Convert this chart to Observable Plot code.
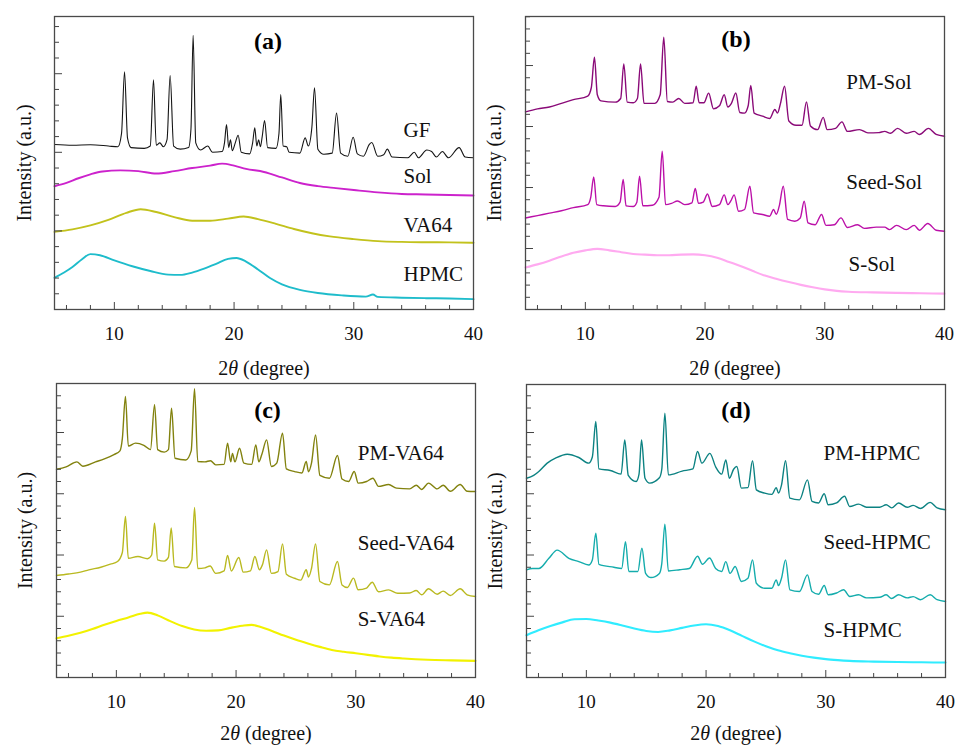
<!DOCTYPE html>
<html><head><meta charset="utf-8">
<script src="https://cdn.jsdelivr.net/npm/d3@7"></script>
<script src="https://cdn.jsdelivr.net/npm/@observablehq/plot@0.6"></script>
<style>
body{margin:0;background:#fff;}
#wrap{position:relative;width:955px;height:746px;overflow:hidden;}
.panel{position:absolute;}
svg text{font-family:'Liberation Serif','Times New Roman',serif;}
</style></head><body><div id="wrap"></div>
<script>
// ---- tick labels / titles ----
const xTickLabels = [10, 20, 30, 40];
const xMajorTicks = [10, 20, 30];
const xMinorTicks = [6, 8, 12, 14, 16, 18, 22, 24, 26, 28, 32, 34, 36, 38];
const xTitle = "2θ (degree)";
const yTitle = "Intensity (a.u.)";
const panelLetters = ["(a)", "(b)", "(c)", "(d)"];

// ---- series names ----
const namesA = ["GF", "Sol", "VA64", "HPMC"];
const namesB = ["PM-Sol", "Seed-Sol", "S-Sol"];
const namesC = ["PM-VA64", "Seed-VA64", "S-VA64"];
const namesD = ["PM-HPMC", "Seed-HPMC", "S-HPMC"];

// ---- series values [2θ, intensity (a.u.)] ----
const GF = [[5,10.5],[6.5,10.45],[8,10.48],[9.5,10.4],[10.3,10.35],[10.6,11.2],[10.85,15.12],[11.1,10.9],[11.4,10.3],[12.5,10.25],[13,10.4],[13.27,14.61],[13.5,10.45],[13.8,10.6],[14.1,10.35],[14.4,10.8],[14.66,14.89],[14.95,10.4],[15.5,10.2],[16.2,10.3],[16.4,11.5],[16.58,17.45],[16.8,10.6],[17.2,10.15],[17.8,10.4],[18.2,10.0],[19,10.05],[19.2,10.6],[19.37,11.77],[19.55,10.3],[19.7,10.8],[19.85,10.1],[20.1,10.6],[20.34,11.09],[20.6,10.0],[21.3,9.9],[21.55,10.6],[21.73,11.56],[21.9,10.4],[22.05,10.8],[22.2,10.35],[22.35,11.0],[22.55,12.02],[22.8,10.3],[23.5,10.25],[23.75,11.2],[23.9,13.68],[24.1,10.4],[24.4,10.35],[24.6,10.0],[25.5,9.95],[25.94,10.92],[26.2,10.4],[26.5,11.6],[26.72,14.1],[27,10.2],[27.5,9.88],[28.2,9.95],[28.56,12.49],[28.9,9.95],[29.5,9.75],[29.95,10.96],[30.3,9.9],[30.8,9.75],[31.3,10.5],[31.5,10.62],[32,9.75],[32.5,9.85],[32.8,10.2],[33.2,9.7],[34.5,9.65],[35.05,10.0],[35.4,9.65],[36.1,10.15],[36.5,10.05],[36.9,9.7],[37.4,10.05],[37.9,9.65],[38.8,10.3],[39.3,9.7],[40,9.65]];
const Sol = [[5,7.84],[6,8.05],[7,8.35],[8,8.6],[9,8.78],[10.5,8.85],[12,8.8],[13.5,8.65],[15,8.8],[16.5,9.0],[18,9.15],[19,9.28],[20,9.15],[21,8.95],[22.5,8.75],[24,8.4],[25.5,8.05],[27,7.85],[28.5,7.72],[30,7.6],[32,7.45],[34,7.35],[36,7.32],[38,7.28],[40,7.25]];
const VA64 = [[5,4.94],[6.5,5.1],[8,5.35],[9.5,5.7],[11,6.15],[12.2,6.38],[13.5,6.2],[15,5.88],[16.5,5.65],[18,5.65],[19.5,5.78],[20.8,5.92],[22,5.75],[23.5,5.45],[25,5.12],[26.5,4.85],[28,4.65],[30,4.48],[32,4.35],[34,4.3],[36,4.28],[38,4.27],[40,4.25]];
const HPMC = [[5,2.02],[5.8,2.35],[6.5,2.7],[7.3,3.2],[8,3.52],[8.8,3.45],[10,3.12],[11.5,2.75],[13,2.45],[14.5,2.22],[15.5,2.2],[16.5,2.35],[17.5,2.6],[18.5,2.9],[19.5,3.22],[20.2,3.28],[21,3.05],[22,2.55],[23,2.0],[24,1.6],[25.5,1.25],[27,1.05],[29,0.9],[31,0.82],[31.6,0.95],[32,0.8],[34,0.75],[36,0.72],[38,0.7],[40,0.66]];

const PM_Sol = [[5,16.2],[6,16.45],[7,16.6],[8,16.9],[9,17.2],[10.2,17.5],[10.5,18.2],[10.76,20.68],[11,17.6],[11.3,17.1],[12.5,17.0],[12.95,17.3],[13.21,20.14],[13.5,17.0],[14,16.95],[14.35,17.3],[14.61,20.14],[14.9,16.9],[15.8,16.9],[16.25,17.6],[16.55,22.32],[16.85,17.05],[17.3,17.0],[17.8,17.3],[18.3,16.9],[19,16.95],[19.26,18.3],[19.5,16.95],[19.9,16.95],[20.3,17.74],[20.7,16.45],[21.2,16.7],[21.6,17.6],[21.9,16.6],[22.2,16.9],[22.57,17.75],[22.9,16.15],[23.3,16.1],[23.6,16.7],[23.82,18.36],[24.1,16.1],[24.8,15.85],[25.4,15.66],[25.83,16.4],[26.05,16.1],[26.3,16.9],[26.64,18.3],[27,15.45],[27.6,15.1],[28.1,15.1],[28.47,17.02],[28.8,15.05],[29.4,14.75],[29.87,15.75],[30.2,14.75],[30.9,14.85],[31.43,15.38],[31.9,14.6],[32.9,14.75],[33.6,14.48],[34.5,14.5],[35,14.6],[35.5,14.45],[36.08,14.85],[36.8,14.45],[37.47,14.6],[37.9,14.35],[38.66,14.85],[39.3,14.35],[40,14.2]];
const Seed_Sol = [[5,7.5],[6,7.7],[7,7.9],[8,8.1],[9,8.35],[10.2,8.6],[10.45,9.2],[10.7,10.87],[10.95,8.6],[11.5,8.5],[12.5,8.45],[12.9,8.8],[13.16,10.66],[13.4,8.5],[14,8.45],[14.3,8.8],[14.53,10.93],[14.8,8.5],[15.6,8.55],[16.15,9.2],[16.42,12.98],[16.7,8.6],[17.2,8.7],[17.7,8.9],[18.3,8.6],[18.9,8.75],[19.18,9.92],[19.45,8.7],[19.85,8.8],[20.2,9.47],[20.6,8.45],[21.2,8.6],[21.6,9.4],[21.9,8.6],[22.15,8.9],[22.43,9.4],[22.8,8.05],[23.3,8.2],[23.74,10.11],[24.05,7.92],[24.8,7.79],[25.4,7.65],[25.72,8.2],[25.95,7.8],[26.2,8.5],[26.53,10.11],[26.9,7.38],[27.5,7.24],[27.95,7.5],[28.28,8.88],[28.6,7.1],[29.2,6.95],[29.73,7.79],[30.1,6.9],[30.8,6.95],[31.35,7.51],[31.9,6.72],[32.74,6.95],[33.3,6.65],[34.3,6.75],[35,6.75],[35.4,6.55],[36,6.9],[36.8,6.55],[37.47,6.9],[37.9,6.5],[38.6,7.05],[39.3,6.5],[40,6.42]];
const S_Sol = [[5,3.45],[6,3.7],[7,4.0],[8,4.35],[9,4.65],[10,4.85],[11,4.97],[12,4.85],[13,4.7],[14,4.55],[15,4.5],[16,4.45],[17,4.45],[18,4.5],[19,4.52],[20,4.45],[21,4.25],[22,3.9],[23,3.55],[24,3.15],[25,2.78],[26,2.5],[27,2.25],[28,2.02],[29,1.82],[30,1.65],[31,1.53],[32,1.46],[34,1.4],[36,1.36],[38,1.33],[40,1.3]];

const PM_VA64 = [[5,17.0],[5.8,17.2],[6.7,17.6],[7.2,17.25],[8.26,17.6],[9,17.85],[9.8,18.2],[10.3,18.5],[10.5,19.5],[10.76,22.94],[11,18.9],[11.6,19.13],[12.3,18.95],[12.85,18.6],[13.19,22.26],[13.45,18.6],[14,18.4],[14.35,18.6],[14.61,21.99],[14.9,17.9],[15.8,17.76],[16.25,18.5],[16.53,23.57],[16.8,17.63],[17.4,17.6],[17.86,17.7],[18.3,17.36],[19,17.4],[19.29,19.13],[19.55,17.6],[19.7,18.3],[19.9,17.6],[20.29,18.72],[20.65,17.5],[21.3,17.4],[21.65,18.99],[21.9,17.6],[22.15,18.2],[22.55,19.4],[22.95,17.22],[23.4,17.5],[23.88,19.95],[24.2,17.03],[24.9,16.81],[25.5,16.7],[25.86,17.63],[26.05,16.8],[26.3,17.5],[26.64,19.8],[27,16.5],[27.8,16.27],[28.47,18.12],[28.85,16.2],[29.4,16.0],[29.87,16.82],[30.2,15.87],[30.9,16.0],[31.43,16.27],[31.9,15.6],[32.74,15.75],[33.4,15.46],[34.5,15.4],[35.05,15.7],[35.5,15.35],[36.08,15.87],[36.8,15.4],[37.3,15.7],[37.9,15.2],[38.72,15.75],[39.3,15.2],[40,15.18]];
const Seed_VA64 = [[5,8.33],[6,8.45],[7,8.6],[7.7,8.79],[8.7,9.0],[9.5,9.25],[10.1,9.47],[10.5,10.2],[10.76,13.14],[11,9.74],[11.8,9.88],[12.6,9.7],[12.95,10.0],[13.19,12.6],[13.45,9.6],[14,9.5],[14.35,9.8],[14.58,12.2],[14.85,9.06],[15.8,8.95],[16.3,9.6],[16.53,13.88],[16.8,8.9],[17.4,8.95],[17.83,9.1],[18.3,8.5],[19,8.7],[19.29,9.96],[19.6,8.7],[20.23,9.8],[20.6,8.6],[21.2,8.7],[21.57,9.88],[21.95,8.8],[22.2,9.2],[22.55,10.42],[22.95,8.5],[23.5,8.65],[23.88,10.91],[24.2,8.43],[24.9,8.1],[25.4,7.95],[25.86,8.79],[26.05,8.2],[26.3,8.9],[26.64,10.91],[27,7.84],[27.8,7.56],[28.47,9.47],[28.85,7.56],[29.3,7.35],[29.81,8.11],[30.2,7.16],[30.9,7.3],[31.37,7.78],[31.9,7.0],[32.74,7.15],[33.5,6.88],[34.5,6.9],[35.05,7.1],[35.5,6.75],[36.08,7.24],[36.8,6.8],[37.3,7.05],[37.9,6.7],[38.72,7.24],[39.3,6.75],[40,6.61]];
const S_VA64 = [[5,3.2],[6,3.4],[7,3.65],[8,3.95],[9,4.3],[10,4.62],[11,4.9],[12,5.2],[12.6,5.3],[13.5,5.05],[14.5,4.6],[15.5,4.2],[16.5,3.92],[17.5,3.82],[18.5,3.85],[19.5,4.05],[20.5,4.22],[21.3,4.3],[22,4.15],[23,3.8],[24,3.42],[25,3.08],[26,2.78],[27,2.5],[28,2.25],[29,2.1],[30,1.98],[31,1.85],[32,1.72],[33,1.62],[34,1.55],[36,1.45],[38,1.4],[40,1.36]];

const PM_HPMC = [[5,16.27],[5.6,16.5],[6.03,16.82],[6.73,17.5],[7.42,17.9],[8.4,18.23],[9.37,17.96],[10.2,17.5],[10.5,18.0],[10.79,20.9],[11.05,17.03],[12,16.9],[12.9,16.6],[13.21,19.4],[13.5,16.5],[14.16,16.0],[14.4,16.6],[14.61,19.4],[14.9,16.27],[15.3,15.87],[16.1,16.3],[16.3,17.0],[16.56,21.58],[16.85,16.54],[18,16.85],[18.9,17.03],[19.29,18.45],[19.65,17.5],[20.32,18.3],[20.8,17.2],[21.3,16.6],[21.65,17.76],[21.95,16.27],[22.3,17.0],[22.57,17.22],[22.95,15.46],[23.5,15.5],[23.88,17.7],[24.2,15.32],[24.9,15.05],[25.5,14.95],[25.86,15.5],[26.05,15.05],[26.3,15.7],[26.64,17.7],[27,14.64],[27.8,14.5],[28.47,16.13],[28.85,14.37],[29.4,14.25],[29.87,15.0],[30.2,14.1],[30.9,14.25],[31.57,14.8],[32,13.96],[32.74,14.15],[33.4,13.9],[34.5,13.9],[35.05,14.1],[35.5,13.85],[36.08,14.25],[36.8,13.9],[37.3,14.05],[37.9,13.8],[38.72,14.3],[39.3,13.85],[40,13.69]];
const Seed_HPMC = [[5,8.79],[5.5,8.9],[6.03,8.9],[6.87,9.73],[7.56,10.4],[8.54,9.73],[9.37,9.46],[10.2,9.19],[10.5,9.6],[10.79,11.78],[11.05,9.24],[12.3,9.0],[12.95,8.9],[13.27,11.08],[13.55,8.65],[14.3,8.65],[14.64,10.55],[14.95,8.51],[15.4,8.16],[16.1,8.5],[16.3,9.3],[16.56,12.52],[16.85,8.7],[17.8,8.8],[18.6,8.9],[19.29,9.9],[19.7,9.24],[20.29,9.76],[20.8,8.9],[21.3,8.65],[21.65,9.46],[22,8.5],[22.43,9.06],[22.95,7.84],[23.5,8.1],[23.88,9.6],[24.2,7.7],[24.9,7.29],[25.5,7.29],[25.86,7.97],[26.05,7.5],[26.3,8.1],[26.64,9.6],[27,7.16],[27.8,7.02],[28.47,8.38],[28.85,7.02],[29.4,6.8],[29.87,7.51],[30.2,6.75],[30.9,6.9],[31.49,7.16],[32,6.61],[32.74,6.75],[33.4,6.5],[34.5,6.55],[35.05,6.75],[35.5,6.45],[36.08,6.75],[36.8,6.5],[37.3,6.6],[37.9,6.35],[38.72,6.75],[39.3,6.35],[40,6.2]];
const S_HPMC = [[5,3.45],[6,3.85],[7,4.2],[8,4.5],[9,4.75],[10,4.78],[11,4.65],[12,4.48],[13,4.25],[14,4.0],[15,3.8],[16,3.72],[17,3.85],[18,4.05],[19,4.25],[20,4.35],[21,4.2],[22,3.85],[23,3.4],[24,2.95],[25,2.55],[26,2.22],[27,1.98],[28,1.78],[29,1.62],[30,1.5],[31,1.42],[32,1.36],[34,1.3],[36,1.26],[38,1.24],[40,1.22]];

// ---- panel layout / styles ----
const FONT = "'Liberation Serif','Times New Roman',serif";
const panels = [
  {letter: panelLetters[0], left: 0, top: 0, ml: 54, mr: 4, mt: 16, mb: 64, ymax: 18.64, ldx: 4, ldy: 25, tdx: -30, xdy: 59,
   series: [GF, Sol, VA64, HPMC], names: namesA,
   colors: ["#151515", "#cc22cc", "#c2c21c", "#1ebccb"], widths: [1.1, 1.9, 1.9, 1.9],
   lx: [34.16, 34.16, 34.16, 34.16], ly: [11.39, 8.49, 5.38, 2.23]},
  {letter: panelLetters[1], left: 478, top: 0, ml: 47, mr: 11, mt: 16, mb: 64, ymax: 24.02, ldx: 1, ldy: 23, tdx: -31, xdy: 59,
   series: [PM_Sol, Seed_Sol, S_Sol], names: namesB,
   colors: ["#8a0a78", "#bb10a8", "#ffaaf0"], widths: [1.4, 1.4, 2.1],
   lx: [31.79, 31.79, 31.98], ly: [18.63, 10.43, 3.74]},
  {letter: panelLetters[2], left: 0, top: 373, ml: 56, mr: 2, mt: 10, mb: 69, ymax: 24.0, ldx: 1.5, ldy: 27, tdx: -31, xdy: 56,
   series: [PM_VA64, Seed_VA64, S_VA64], names: namesC,
   colors: ["#82820e", "#b9b920", "#f2f200"], widths: [1.4, 1.4, 2.1],
   lx: [30.17, 30.17, 30.17], ly: [18.33, 10.98, 4.72]},
  {letter: panelLetters[3], left: 478, top: 373, ml: 48, mr: 10, mt: 11, mb: 69, ymax: 23.92, ldx: 0, ldy: 26, tdx: -31, xdy: 56,
   series: [PM_HPMC, Seed_HPMC, S_HPMC], names: namesD,
   colors: ["#0c8282", "#14acac", "#30ecff"], widths: [1.4, 1.4, 2.1],
   lx: [29.81, 29.81, 29.81], ly: [18.3, 11.02, 3.84]}
];

const W = 477, H = 373;
const wrap = document.getElementById("wrap");
const txt = {fontFamily: FONT, fill: "#111", lineAnchor: "middle"};

panels.forEach(p => {
  const fw = W - p.ml - p.mr, fh = H - p.mt - p.mb;
  const yMinor = d3.range(1, Math.floor(p.ymax) + 1).filter(v => v % 5 !== 0);
  const yMajor = d3.range(5, Math.floor(p.ymax) + 1, 5);
  const labels = p.names.map((n, i) => ({name: n, x: p.lx[i], y: p.ly[i]}));
  const lines = p.series.map((s, i) => Plot.line(s, {x: d => d[0], y: d => d[1], curve: "monotone-x", stroke: p.colors[i], strokeWidth: p.widths[i], strokeLinejoin: "round"}));
  const svg = Plot.plot({
    width: W, height: H,
    marginLeft: p.ml, marginRight: p.mr, marginTop: p.mt, marginBottom: p.mb,
    x: {domain: [5, 40], axis: null},
    y: {domain: [0, p.ymax], axis: null},
    style: {fontFamily: FONT, overflow: "visible", background: "transparent", color: "#000"},
    marks: [
      ...lines,
      Plot.ruleX(xMinorTicks, {x: d => d, insetTop: fh - 4, stroke: "#444", strokeWidth: 1}),
      Plot.ruleX(xMajorTicks, {x: d => d, insetTop: fh - 7, stroke: "#444", strokeWidth: 1}),
      Plot.ruleY(yMinor, {y: d => d, insetRight: fw - 5, stroke: "#444", strokeWidth: 1}),
      Plot.ruleY(yMajor, {y: d => d, insetRight: fw - 8, stroke: "#444", strokeWidth: 1}),
      Plot.frame({stroke: "#4a4a4a", strokeWidth: 1.3}),
      Plot.text(xTickLabels, {...txt, x: d => d, text: d => String(d), frameAnchor: "bottom", textAnchor: "middle", dy: 24, fontSize: 19}),
      Plot.text([xTitle], {...txt, text: d => d, frameAnchor: "bottom", textAnchor: "middle", dy: p.xdy, fontSize: 20}),
      Plot.text([yTitle], {...txt, text: d => d, frameAnchor: "left", textAnchor: "middle", rotate: -90, dx: p.tdx, fontSize: 20}),
      Plot.text([p.letter], {...txt, text: d => d, frameAnchor: "top", textAnchor: "middle", dx: p.ldx, dy: p.ldy, fontSize: 24, fontWeight: "bold", fill: "#000"}),
      Plot.text(labels, {...txt, x: "x", y: "y", text: "name", textAnchor: "start", fontSize: 21})
    ]
  });
  // italic theta in the x-axis title
  svg.querySelectorAll("text").forEach(t => {
    if (t.textContent === xTitle) {
      while (t.firstChild) t.removeChild(t.firstChild);
      const ns = "http://www.w3.org/2000/svg";
      const a = document.createElementNS(ns, "tspan"); a.textContent = "2";
      const b = document.createElementNS(ns, "tspan"); b.textContent = "θ"; b.setAttribute("font-style", "italic");
      const c = document.createElementNS(ns, "tspan"); c.textContent = " (degree)";
      t.append(a, b, c);
    }
  });
  const div = document.createElement("div");
  div.className = "panel";
  div.style.left = p.left + "px";
  div.style.top = p.top + "px";
  div.appendChild(svg);
  wrap.appendChild(div);
});
</script>
</body></html>
